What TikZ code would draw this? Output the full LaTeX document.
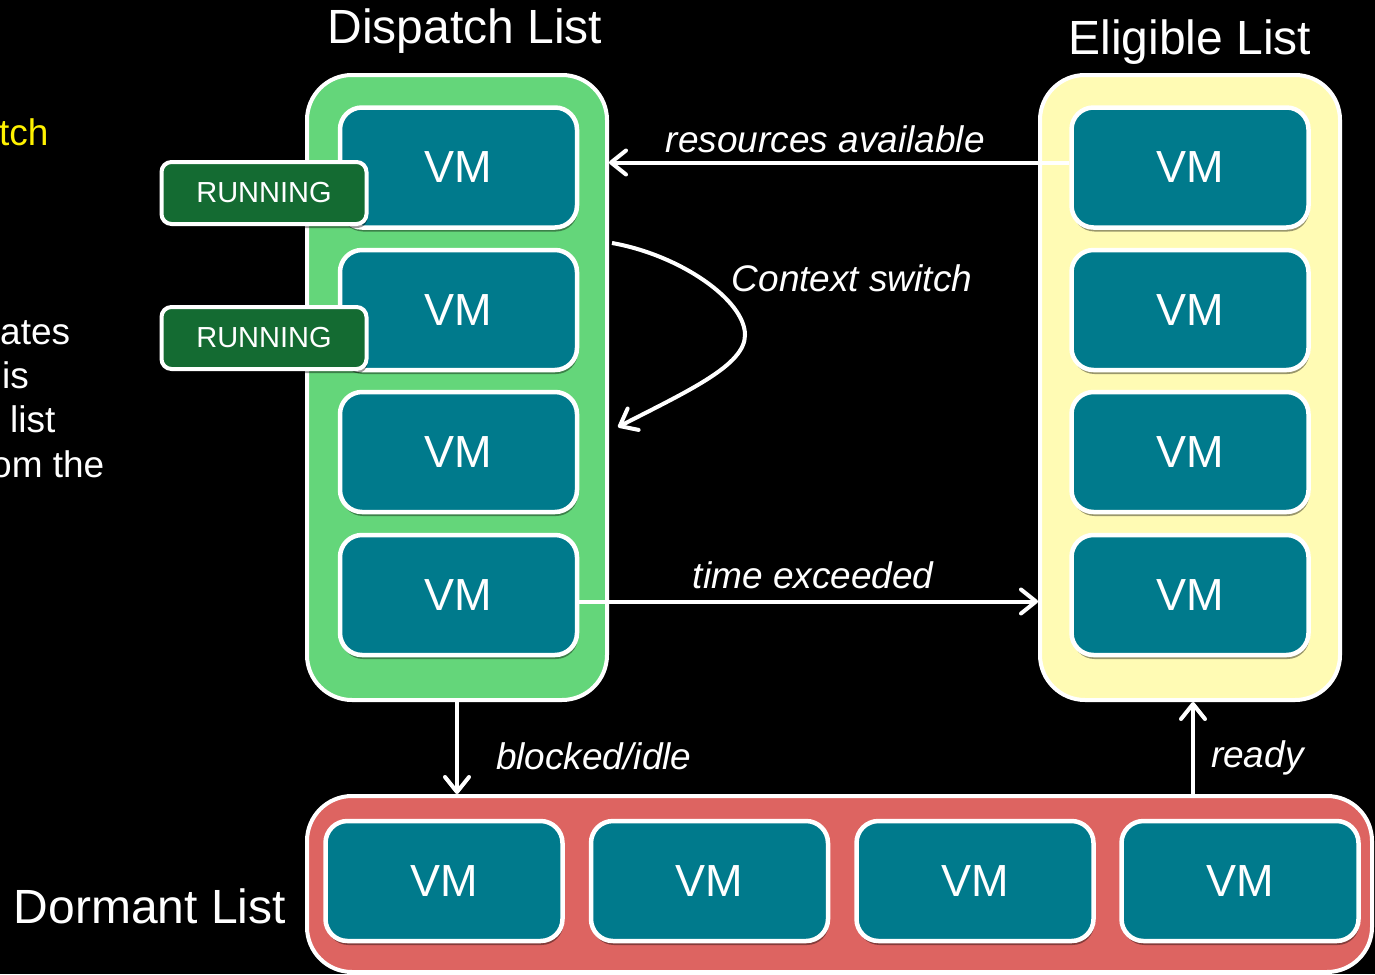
\documentclass[tikz,border=0pt]{standalone}
\usepackage{fontspec}
\setmainfont{Liberation Sans}
\usetikzlibrary{arrows.meta,shadows}
\definecolor{dispgreen}{RGB}{100,214,122}
\definecolor{eligyellow}{RGB}{255,251,180}
\definecolor{dormred}{RGB}{221,100,97}
\definecolor{vmteal}{RGB}{0,122,140}
\definecolor{rungreen}{RGB}{20,107,50}
\begin{document}
\begin{tikzpicture}[x=1pt,y=-1pt,>={Straight Barb[length=15pt,width=24pt,round]},
  listbox/.style={draw=white,line width=4pt,rounded corners=45pt},
  vm/.style={draw=white,line width=4.5pt,fill=vmteal,rounded corners=22pt,
    minimum width=237pt,minimum height=120pt,text=white,
    font=\fontsize{45}{54}\selectfont,
    drop shadow={shadow xshift=1pt,shadow yshift=-4pt,opacity=0.4,fill=black}},
  runbox/.style={draw=white,line width=4pt,fill=rungreen,rounded corners=10pt,
    minimum width=205pt,minimum height=62pt,text=white,
    font=\fontsize{29}{35}\selectfont,
    drop shadow={shadow xshift=1pt,shadow yshift=-4pt,opacity=0.4,fill=black}},
  title/.style={text=white,font=\fontsize{48}{57}\selectfont},
  edgelabel/.style={text=white,font=\fontsize{37}{44}\selectfont\itshape,inner sep=0pt},
  side/.style={text=white,font=\fontsize{37}{44}\selectfont,inner sep=0pt,anchor=base west},
  flow/.style={draw=white,line width=4pt}]
\useasboundingbox (0,0) rectangle (1375,974);
\fill[black] (0,0) rectangle (1375,974);
% 左侧被截断的正文
\node[side,text=yellow] (sidea) at (-1,145) {tch};
\node[side] (sideb) at (0,344) {ates};
\node[side] (sidec) at (2,388) {is};
\node[side] (sided) at (10,432) {list};
\node[side] (sidee) at (-9,477) {om the};
% 三个队列
\node[listbox,fill=dispgreen,minimum width=300pt,minimum height=625pt] (dispatch) at (457,387.5) {};
\node[listbox,fill=eligyellow,minimum width=300pt,minimum height=625pt] (eligible) at (1190,387.5) {};
\node[listbox,fill=dormred,minimum width=1065pt,minimum height=176pt] (dormant) at (839.5,884) {};
\node[title] (dtitle) at (465,31) {Dispatch List};
\node[title] (etitle) at (1190,42) {Eligible List};
\node[title] (mtitle) at (150,906) {Dormant List};
% 队列里的VM
\foreach \y [count=\i] in {167.5,310,452,595} {
  \node[vm] (d\i) at (458.5,\y) {VM};
  \node[vm] (e\i) at (1190,\y) {VM};
}
\foreach \x [count=\i] in {444,709.5,975,1240}
  \node[vm] (m\i) at (\x,881) {VM};
\node[runbox] (run1) at (264,193) {RUNNING};
\node[runbox] (run2) at (264,338) {RUNNING};
% 状态转移
\coordinate (res) at ([yshift=5pt]e1.west);
\draw[flow,->] (res) -- (res -| dispatch.east) node[edgelabel,pos=0.53,above=8pt] (lres) {resources available};
\coordinate (tex) at ([yshift=-6.5pt]d4.east);
\draw[flow,->] (tex) -- (tex -| eligible.west) node[edgelabel,pos=0.51,above=11pt] (ltime) {time exceeded};
\coordinate (blk) at (457,700);
\draw[flow,->] (blk) -- (blk |- dormant.north) node[edgelabel,pos=0.6,right=37pt] (lblk) {blocked/idle};
\coordinate (rdy) at (1193,796);
\draw[flow,->] (rdy) -- (rdy |- eligible.south) node[edgelabel,pos=0.4,right=16pt] (lrdy) {ready};
\coordinate (cs1) at (612,243);
\coordinate (cs2) at (618,427);
\draw[flow,->] (cs1) .. controls (680,255) and (745,300) .. (745,335)
  .. controls (745,365) and (690,390) .. (cs2);
\node[edgelabel] (lcs) at (852,278) {Context switch};
\end{tikzpicture}
\end{document}
